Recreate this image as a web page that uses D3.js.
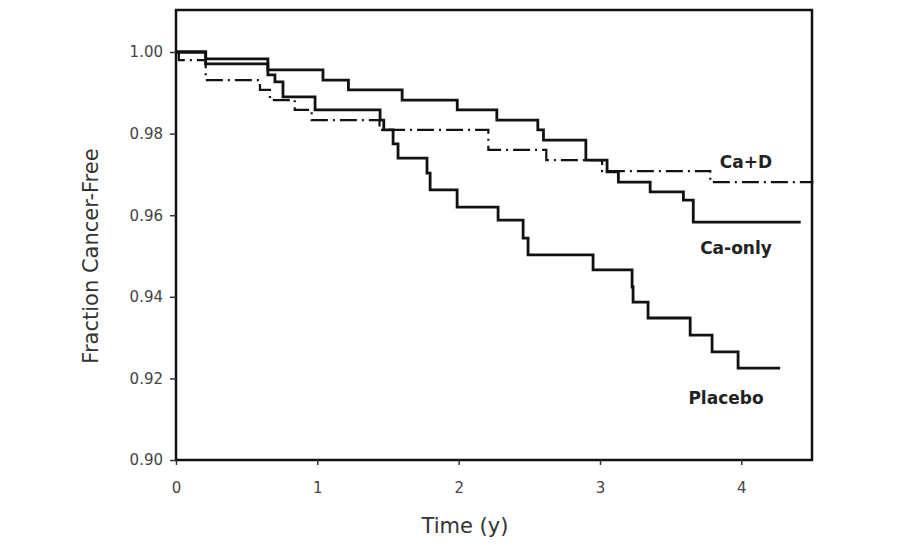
<!DOCTYPE html>
<html><head><meta charset="utf-8">
<script src="https://cdn.jsdelivr.net/npm/d3@7"></script>
<style>body{margin:0;background:#fff}svg{display:block}</style>
</head><body>
<script>
// Data (time in years, fraction cancer-free after each step)
const caOnlyTime  = [0, 0.21, 0.65, 1.04, 1.22, 1.60, 1.99, 2.27, 2.56, 2.60, 2.90, 3.05, 3.13, 3.355, 3.59, 3.66, 4.42];
const caOnlyValue = [1.000, 0.9983, 0.9956, 0.9931, 0.9907, 0.9882, 0.9858, 0.9833, 0.9809, 0.9784, 0.9735, 0.9706, 0.9681, 0.9657, 0.9637, 0.9583, 0.9583];

const caDTime  = [0, 0.02, 0.21, 0.594, 0.665, 0.84, 0.96, 1.44, 2.21, 2.62, 3.015, 3.78, 4.51];
const caDValue = [1.000, 0.998, 0.9931, 0.9907, 0.9882, 0.9858, 0.9833, 0.9809, 0.9760, 0.9735, 0.9708, 0.9681, 0.9681];

const placeboTime  = [0, 0.21, 0.65, 0.70, 0.757, 0.984, 1.444, 1.47, 1.536, 1.571, 1.776, 1.798, 1.989, 2.279, 2.456, 2.491, 2.951, 3.227, 3.234, 3.340, 3.638, 3.793, 3.977, 4.275];
const placeboValue = [1.000, 0.9971, 0.9944, 0.9927, 0.9890, 0.9858, 0.9833, 0.9809, 0.9775, 0.9740, 0.9703, 0.9662, 0.9620, 0.9588, 0.9544, 0.9503, 0.9466, 0.9424, 0.9387, 0.9348, 0.9306, 0.9265, 0.9225, 0.9225];

const xTicks = [0, 1, 2, 3, 4];
const yTicks = [0.90, 0.92, 0.94, 0.96, 0.98, 1.00];
const seriesLabels = ["Ca+D", "Ca-only", "Placebo"];

const W = 920, H = 550;
const svg = d3.select("body").append("svg").attr("width", W).attr("height", H);

const x = d3.scaleLinear().domain([0, 4.5]).range([176, 812]);
const y = d3.scaleLinear().domain([0.90, 1.00]).range([460, 52]);
const yTop = y.invert(10);

const font = "'DejaVu Sans', Verdana, sans-serif";

// frame
svg.append("rect").attr("x", x(0)).attr("y", y(yTop)).attr("width", x(4.5) - x(0)).attr("height", y(0.90) - y(yTop))
  .attr("fill", "none").attr("stroke", "#111").attr("stroke-width", 2.5);

// axes
const yAxis = svg.append("g").attr("transform", `translate(${x(0)},0)`)
  .call(d3.axisLeft(y).tickValues(yTicks).tickFormat(d3.format(".2f")).tickSize(6).tickPadding(7));
const xAxis = svg.append("g").attr("transform", `translate(0,${y(0.90)})`)
  .call(d3.axisBottom(x).tickValues(xTicks).tickFormat(d3.format("d")).tickSize(5).tickPadding(17));
[yAxis, xAxis].forEach(g => {
  g.select(".domain").remove();
  g.selectAll(".tick line").attr("stroke", "#333").attr("stroke-width", 1.5);
  g.selectAll(".tick text").attr("fill", "#444").attr("font-family", font).attr("font-size", 15);
});

const line = d3.line().curve(d3.curveStepAfter).x(d => x(d[0])).y(d => y(d[1]));
const zip = (t, v) => t.map((d, i) => [d, v[i]]);

const g = svg.append("g").attr("fill", "none").attr("stroke", "#111").attr("stroke-width", 2.8);
g.append("path").attr("d", line(zip(placeboTime, placeboValue)));
g.append("path").attr("d", line(zip(caOnlyTime, caOnlyValue)));
g.append("path").attr("d", line(zip(caDTime, caDValue))).attr("stroke-width", 2.2).attr("stroke-dasharray", "17,5,2,5");

// series labels
const lab = [[seriesLabels[0], 746, 168], [seriesLabels[1], 736, 254], [seriesLabels[2], 726, 404]];
svg.selectAll("text.lab").data(lab).enter().append("text").attr("class", "lab")
  .attr("x", d => d[1]).attr("y", d => d[2]).attr("text-anchor", "middle")
  .attr("font-family", font).attr("font-size", 17).attr("font-weight", "bold").attr("fill", "#222")
  .text(d => d[0]);

// axis titles
svg.append("text").attr("transform", `translate(98,${(y(0.9) + y(1)) / 2}) rotate(-90)`)
  .attr("text-anchor", "middle").attr("font-family", font).attr("font-size", 21).attr("fill", "#333")
  .text("Fraction Cancer-Free");
svg.append("text").attr("x", 465).attr("y", 533).attr("text-anchor", "middle")
  .attr("font-family", font).attr("font-size", 21).attr("fill", "#333").text("Time (y)");
</script>
</body></html>
